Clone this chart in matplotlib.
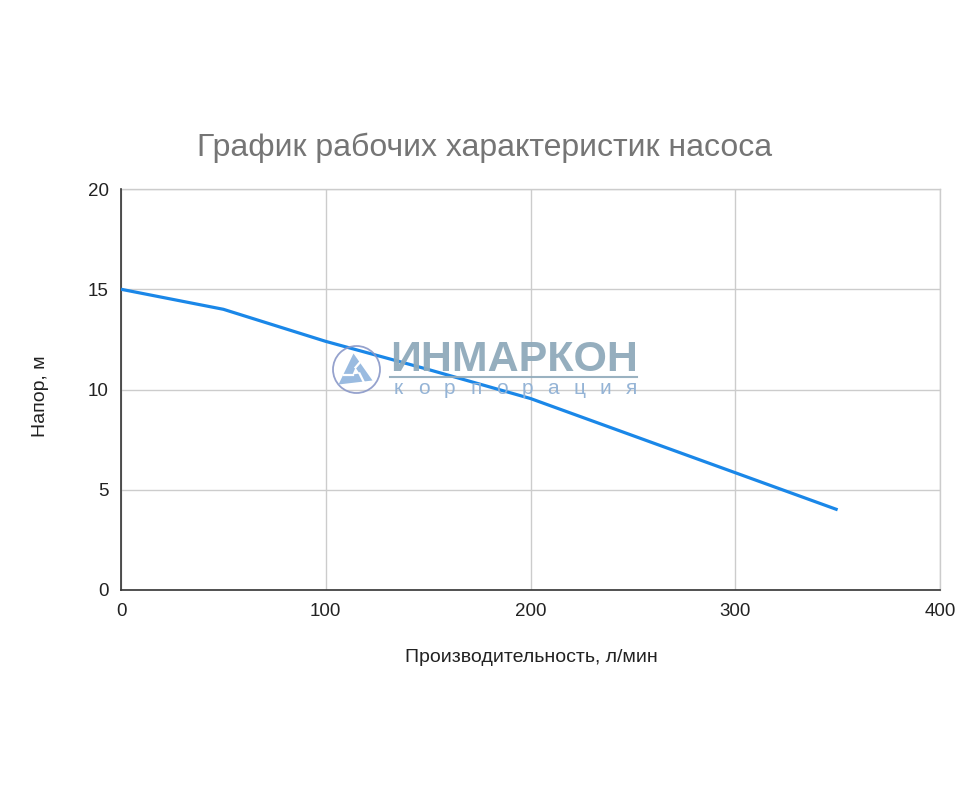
import matplotlib
matplotlib.use("Agg")
import matplotlib.pyplot as plt
from matplotlib.patches import Circle, Polygon

plt.rcParams['font.family'] = ['Liberation Sans', 'DejaVu Sans']

flow = [0, 50, 100, 150, 200, 250, 300, 350]
head = [15, 14, 12.4, 11.0, 9.55, 7.7, 5.85, 4.0]
x_ticks = [0, 100, 200, 300, 400]
y_ticks = [0, 5, 10, 15, 20]

W, H = 971, 795
fig = plt.figure(figsize=(W / 100, H / 100), dpi=100)
ax = fig.add_axes([121 / W, (H - 590) / H, (940 - 121) / W, (590 - 189) / H])

ax.plot(flow, head, color='#1a87e8', linewidth=2.3, solid_capstyle='butt', zorder=3)
ax.set_xlim(0, 400)
ax.set_ylim(0, 20)
ax.set_xticks(x_ticks)
ax.set_yticks(y_ticks)
ax.grid(True, color='#cccccc', linewidth=1.0, zorder=0)
ax.set_axisbelow(True)
for s in ['top', 'right']:
    ax.spines[s].set_visible(False)
for s in ['left', 'bottom']:
    ax.spines[s].set_color('#333333')
    ax.spines[s].set_linewidth(1.2)
ax.tick_params(length=0, labelsize=13.5, colors='#222222', pad=9)
ax.tick_params(axis='x', pad=9)
ax.axhline(20, color='#cccccc', linewidth=1.0, zorder=0, clip_on=False)
ax.axvline(400, color='#cccccc', linewidth=1.0, zorder=0, clip_on=False)

fig.text(485 / W, 1 - 148 / H, 'График рабочих характеристик насоса', ha='center', va='center',
         fontsize=23, color='#757575')
fig.text(531 / W, 1 - 658 / H, 'Производительность, л/мин', ha='center', va='center',
         fontsize=14, color='#222222')
fig.text(40 / W, 1 - 396 / H, 'Напор, м', ha='center', va='center', rotation=90,
         fontsize=14, color='#222222')

# watermark logo
cxp, cyp = 356.5, H - 369.5
fig.patches.append(Circle((cxp, cyp), 23.5, transform=None, fill=False, edgecolor='#8a98c8',
                          linewidth=1.3, alpha=0.9, zorder=5))
fig.patches.append(Polygon([(cxp - 3, cyp + 16), (cxp - 18, cyp - 15), (cxp + 16, cyp - 11)],
                           closed=True, transform=None, facecolor='#8fb4dd',
                           edgecolor='none', alpha=0.9, zorder=5))
fig.patches.append(Polygon([(cxp - 1, cyp + 2), (cxp - 4, cyp - 5), (cxp + 3, cyp - 4)],
                           closed=True, transform=None, facecolor='white',
                           edgecolor='none', zorder=6))
for (x0, y0, x1, y1) in [(cxp - 1, cyp + 2, cxp + 5, cyp + 9),
                         (cxp - 4, cyp - 5, cxp - 13, cyp - 5),
                         (cxp + 3, cyp - 4, cxp + 7, cyp - 12)]:
    fig.add_artist(plt.Line2D([x0 / W, x1 / W], [y0 / H, y1 / H], color='white', linewidth=1.6,
                              zorder=6))

fig.text(390 / W, 1 - 360 / H, 'ИНМАРКОН', ha='left', va='center', fontsize=31,
         fontweight='bold', color='#8faabb', alpha=0.95, zorder=6)
fig.add_artist(plt.Line2D([390 / W, 637 / W], [1 - 377 / H, 1 - 377 / H], color='#8faabb',
                          linewidth=1.5, alpha=0.9))
sub = 'корпорация'
for i, ch in enumerate(sub):
    fig.text((398 + i * 25.9) / W, 1 - 389 / H, ch, ha='center', va='center', fontsize=15,
             color='#8fb0d4', alpha=0.95, zorder=6)

fig.savefig('out.png', dpi=100)
